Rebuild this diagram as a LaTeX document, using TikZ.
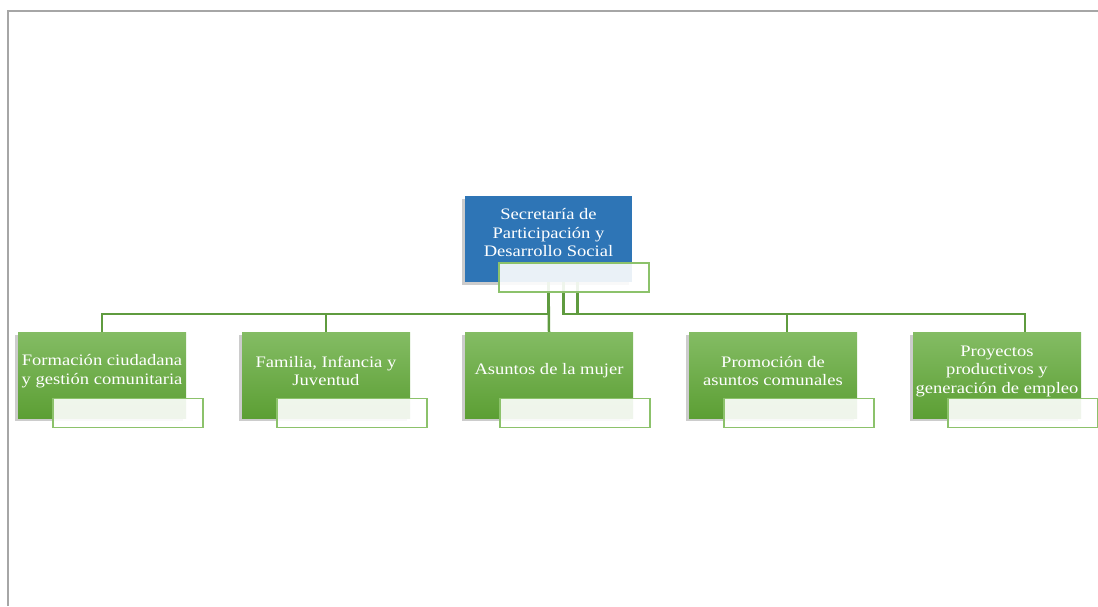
\documentclass[tikz,border=0pt]{standalone}
\usepackage{fontspec}
\setmainfont{Liberation Serif}[FakeStretch=1.16]
\usetikzlibrary{shadows}
\definecolor{secblue}{HTML}{2E75B6}
\definecolor{grtop}{HTML}{84BC64}
\definecolor{grbot}{HTML}{5C9F34}
\definecolor{linkgreen}{HTML}{5F9B3F}
\definecolor{panegreen}{HTML}{8CC26B}
\definecolor{framegray}{HTML}{A6A6A6}

\begin{document}
\begin{tikzpicture}[x=1pt,y=-1pt,
		boss/.style={fill=secblue,minimum width=167pt,minimum height=86pt,inner sep=0pt,
			drop shadow={shadow xshift=-3pt,shadow yshift=-3pt,opacity=0.4}},
		area/.style={top color=grtop,bottom color=grbot,minimum width=168pt,minimum height=86pt,inner sep=0pt,
			drop shadow={shadow xshift=-3pt,shadow yshift=-3pt,opacity=0.4}},
		pane/.style={draw=panegreen,line width=1.2pt,fill=white,fill opacity=0.9,
			minimum width=150pt,minimum height=29pt,inner sep=0pt},
		txt/.style={text=white,align=center,inner sep=0pt,font=\fontsize{16}{18.5}\selectfont},
		link/.style={draw=linkgreen,line width=2.5pt}]
			\useasboundingbox (0,0) rectangle (1098,606);
			\coordinate (fa) at (8,606);
			\coordinate (fb) at (8,11);
			\coordinate (fc) at (1098,11);
			\draw[framegray,line width=2pt] (fa) -- (fb) -- (fc);

			\node[boss] (sec) at (548.5,239) {};
			\node[area] (c1) at (102,375) {};
			\node[area] (c2) at (326,375) {};
			\node[area] (c3) at (549,375) {};
			\node[area] (c4) at (773,375) {};
			\node[area] (c5) at (997,375) {};

			\draw[link] (sec.south) -- ++(0,32) -| (c1.north);
			\draw[link] (sec.south) -- ++(0,32) -| (c2.north);
			\draw[link] (sec.south) -- (c3.north);
			\draw[link] ([xshift=15pt]sec.south) -- ++(0,32) -| ([xshift=14pt]c4.north);
			\draw[link] ([xshift=29pt]sec.south) -- ++(0,32) -| ([xshift=28pt]c5.north);

			\node[pane] (secp) at ([xshift=25.5pt,yshift=-38.5pt]sec.center) {};
			\node[pane] (c1p) at ([xshift=26pt,yshift=-38pt]c1.center) {};
			\node[pane] (c2p) at ([xshift=26pt,yshift=-38pt]c2.center) {};
			\node[pane] (c3p) at ([xshift=26pt,yshift=-38pt]c3.center) {};
			\node[pane] (c4p) at ([xshift=26pt,yshift=-38pt]c4.center) {};
			\node[pane] (c5p) at ([xshift=26pt,yshift=-38pt]c5.center) {};

			\node[txt] (sect) at ([yshift=6pt]sec.center) {Secretaría de\\Participación y\\Desarrollo Social};
			\node[txt] (c1t) at ([yshift=4pt]c1.center) {Formación ciudadana\\y gestión comunitaria};
			\node[txt] (c2t) at ([yshift=4pt]c2.center) {Familia, Infancia y\\Juventud};
			\node[txt] (c3t) at ([yshift=4pt]c3.center) {Asuntos de la mujer};
			\node[txt] (c4t) at ([yshift=4pt]c4.center) {Promoción de\\asuntos comunales};
			\node[txt] (c5t) at ([yshift=4pt]c5.center) {Proyectos\\productivos y\\generación de empleo};
		\end{tikzpicture}
\end{document}
